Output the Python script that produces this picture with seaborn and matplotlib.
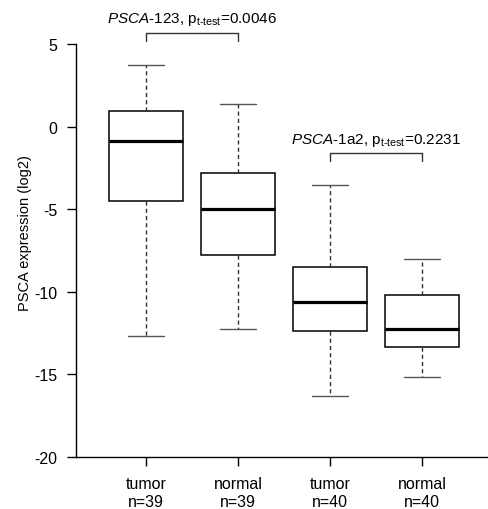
#!/usr/bin/env python3
"""PSCA expression boxplots (tumor vs normal) for the 123 and 1a2 probes."""

import matplotlib as mpl
import matplotlib.pyplot as plt
import numpy as np
import pandas as pd
import seaborn as sns


GROUP_LABELS = ["tumor\nn=39", "normal\nn=39", "tumor\nn=40", "normal\nn=40"]

# five-number summaries: min, Q1, median, Q3, max
TUMOR_123 = [-12.67, -4.53, -0.85, 0.97, 3.70]
NORMAL_123 = [-12.28, -7.80, -4.97, -2.79, 1.35]
TUMOR_1A2 = [-16.28, -12.36, -10.59, -8.50, -3.53]
NORMAL_1A2 = [-15.13, -13.35, -12.24, -10.20, -8.04]

Y_TICKS = [5, 0, -5, -10, -15, -20]

ANNOTATIONS = [
    (0, 1, 5.69, r"$\mathit{PSCA}$-123, p$_{\text{t-test}}$=0.0046"),
    (2, 3, -1.59, r"$\mathit{PSCA}$-1a2, p$_{\text{t-test}}$=0.2231"),
]


def build_frame():
    rows = []
    for label, values in zip(GROUP_LABELS, [TUMOR_123, NORMAL_123, TUMOR_1A2, NORMAL_1A2]):
        for v in values:
            rows.append({"group": label, "expr": v})
    return pd.DataFrame(rows)


def main():
    sns.set_style("ticks")
    mpl.rcParams["font.family"] = ["Liberation Sans", "DejaVu Sans"]
    mpl.rcParams["mathtext.fontset"] = "custom"
    mpl.rcParams["mathtext.rm"] = "Liberation Sans"
    mpl.rcParams["mathtext.it"] = "Liberation Sans:italic"
    mpl.rcParams["mathtext.bf"] = "Liberation Sans:bold"
    for key in ("text.color", "axes.labelcolor", "xtick.color", "ytick.color"):
        mpl.rcParams[key] = "black"

    df = build_frame()

    fig = plt.figure(figsize=(4.89, 5.10), dpi=100)
    ax = fig.add_axes([76 / 489, 52 / 510, 413 / 489, 413 / 510])

    sns.boxplot(
        data=df,
        x="group",
        y="expr",
        order=GROUP_LABELS,
        whis=np.inf,
        width=0.8,
        color="white",
        linecolor="black",
        linewidth=1.1,
        medianprops=dict(color="black", linewidth=2.3),
        whiskerprops=dict(color="#333333", linewidth=1.0, linestyle=(0, (3, 2.2))),
        capprops=dict(color="#555555", linewidth=1.0),
        showfliers=False,
        ax=ax,
    )

    ax.set_xlim(-0.761, 3.728)
    ax.set_ylim(-20, 5)
    ax.set_yticks(Y_TICKS)
    ax.set_yticklabels([str(t) for t in Y_TICKS])
    ax.set_xlabel(None)
    ax.set_ylabel("PSCA expression (log2)", fontsize=10.5, va="center")
    ax.yaxis.set_label_coords(-0.123, 0.544)
    ax.tick_params(axis="both", length=6.5, width=1.0, color="black", labelsize=11.5)
    ax.tick_params(axis="y", pad=7)
    ax.tick_params(axis="x", pad=7)
    for lab in ax.get_xticklabels():
        lab.set_linespacing(1.3)
    for side in ("top", "right"):
        ax.spines[side].set_visible(False)
    for side in ("left", "bottom"):
        ax.spines[side].set_linewidth(1.0)
        ax.spines[side].set_color("black")

    for x0, x1, yb, text in ANNOTATIONS:
        drop = 0.5
        ax.plot([x0, x0, x1, x1], [yb - drop, yb, yb, yb - drop],
                color="#333333", linewidth=1.0, clip_on=False)
        ax.text((x0 + x1) / 2, yb + 0.62, text, ha="center", va="baseline",
                fontsize=11, clip_on=False)

    fig.savefig("out.png", dpi=100)
    plt.close(fig)


if __name__ == "__main__":
    main()
